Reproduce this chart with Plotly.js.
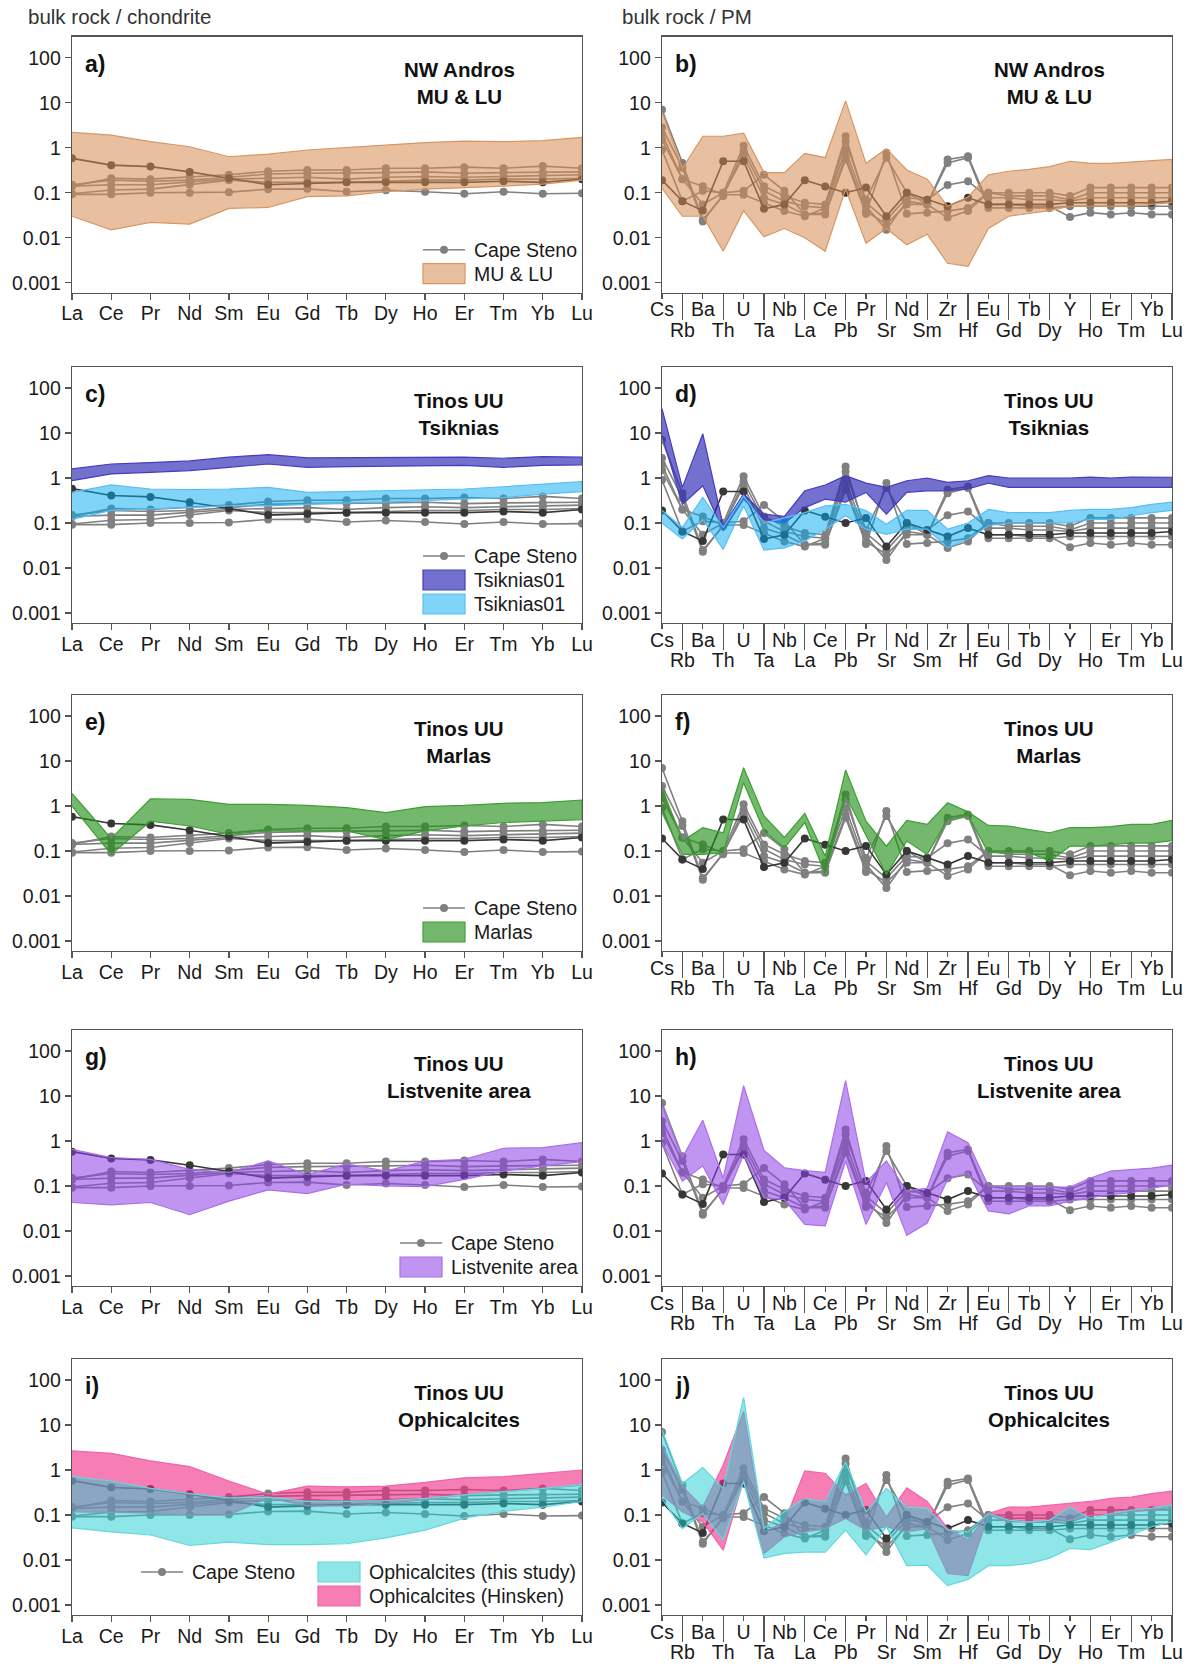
<!DOCTYPE html>
<html><head><meta charset="utf-8">
<script src="https://cdn.plot.ly/plotly-3.0.1.min.js"></script>
<style>html,body{margin:0;padding:0;background:#fff}</style>
</head><body><div id="chart" style="width:1191px;height:1665px"></div>
<script>
// ---------- categories ----------
const REE = ['La','Ce','Pr','Nd','Sm','Eu','Gd','Tb','Dy','Ho','Er','Tm','Yb','Lu'];
const PM  = ['Cs','Rb','Ba','Th','U','Ta','Nb','La','Ce','Pb','Pr','Sr','Nd','Sm','Zr','Hf','Eu','Gd','Tb','Dy','Y','Ho','Er','Tm','Yb','Lu'];
const yTickVals = [100,10,1,0.1,0.01,0.001];
const yTickText = ['100','10','1','0.1','0.01','0.001'];

// ---------- Cape Steno samples (chondrite normalised) ----------
const capeREE_1 = [0.14,0.21,0.20,0.22,0.25,0.30,0.32,0.32,0.35,0.35,0.37,0.35,0.39,0.35];
const capeREE_2 = [0.15,0.19,0.18,0.19,0.22,0.26,0.27,0.27,0.28,0.29,0.27,0.28,0.28,0.29];
const capeREE_3 = [0.14,0.15,0.15,0.17,0.20,0.21,0.22,0.20,0.22,0.23,0.22,0.23,0.24,0.25];
const capeREE_4 = [0.095,0.115,0.12,0.15,0.19,0.17,0.17,0.17,0.18,0.19,0.19,0.20,0.20,0.21];
const capeREE_5 = [0.092,0.092,0.10,0.10,0.103,0.12,0.122,0.105,0.114,0.105,0.095,0.105,0.095,0.097];
const capeREE_dark = [0.58,0.41,0.38,0.29,0.21,0.15,0.16,0.17,0.17,0.17,0.17,0.18,0.17,0.20];

// ---------- Cape Steno samples (PM normalised) ----------
const capePM_1 = [7,0.46,0.025,0.085,0.84,0.11,0.065,0.05,0.046,0.9,0.05,0.015,0.065,0.055,0.55,0.65,0.055,0.055,0.05,0.05,0.029,0.036,0.033,0.036,0.033,0.033];
const capePM_2 = [2.8,0.36,0.023,0.09,0.65,0.077,0.055,0.033,0.036,0.65,0.039,0.02,0.055,0.055,0.46,0.6,0.046,0.046,0.046,0.046,0.05,0.05,0.05,0.05,0.05,0.05];
const capePM_3 = [2,0.2,0.055,0.1,1.1,0.14,0.085,0.06,0.055,1.8,0.06,0.025,0.077,0.07,0.148,0.18,0.077,0.077,0.07,0.07,0.065,0.077,0.077,0.077,0.077,0.077];
const capePM_4 = [0.9,0.065,0.11,0.1,0.11,0.25,0.11,0.033,0.033,0.55,0.034,0.77,0.034,0.036,0.039,0.046,0.1,0.1,0.1,0.1,0.085,0.13,0.13,0.13,0.13,0.13];
const capePM_5 = [1.5,0.2,0.14,0.09,0.09,0.06,0.039,0.03,0.046,1.4,0.07,0.6,0.1,0.055,0.028,0.039,0.1,0.085,0.085,0.085,0.07,0.1,0.1,0.1,0.1,0.1];
const capePM_dark = [0.19,0.065,0.04,0.5,0.5,0.044,0.055,0.19,0.138,0.1,0.13,0.03,0.1,0.07,0.05,0.077,0.055,0.055,0.055,0.055,0.06,0.06,0.06,0.06,0.06,0.065];

// ---------- comparison fields: upper / lower envelopes ----------
const muluREE_up = [2.2,1.9,1.36,1.05,0.63,0.72,0.89,1.0,1.15,1.3,1.4,1.36,1.43,1.7];
const muluREE_lo = [0.03,0.015,0.022,0.02,0.045,0.047,0.082,0.085,0.105,0.12,0.13,0.14,0.155,0.19];
const muluPM_up = [6.3,0.35,1.8,1.8,2.1,0.28,0.28,0.75,0.6,11,0.45,0.95,0.32,0.2,0.05,0.08,0.25,0.3,0.33,0.38,0.5,0.45,0.45,0.48,0.52,0.55];
const muluPM_lo = [0.125,0.03,0.03,0.005,0.04,0.0105,0.016,0.01,0.005,0.12,0.0075,0.016,0.007,0.012,0.0027,0.0023,0.016,0.03,0.035,0.04,0.05,0.05,0.05,0.05,0.055,0.06];

const tsikA_REE_up = [1.59,2.05,2.2,2.4,2.9,3.3,2.8,2.8,2.8,2.85,2.9,2.75,3.0,2.9];
const tsikA_REE_lo = [0.87,1.23,1.34,1.46,1.73,2.05,1.73,1.8,1.8,1.88,1.9,1.73,1.9,1.95];
const tsikB_REE_up = [0.48,0.70,0.57,0.55,0.57,0.62,0.48,0.5,0.52,0.54,0.57,0.64,0.73,0.83];
const tsikB_REE_lo = [0.12,0.19,0.2,0.22,0.24,0.24,0.26,0.28,0.29,0.31,0.34,0.37,0.44,0.5];
const tsikA_PM_up = [35,0.62,9.6,0.087,0.44,0.157,0.14,0.52,0.70,1.13,0.77,0.62,0.87,1.0,0.8,0.87,1.13,1.0,1.0,1.0,1.0,1.05,1.0,1.05,1.05,1.04];
const tsikA_PM_lo = [8.8,0.26,0.67,0.067,0.34,0.12,0.1,0.22,0.34,0.29,0.48,0.157,0.48,0.52,0.52,0.57,0.77,0.62,0.62,0.62,0.62,0.62,0.62,0.62,0.62,0.62];
const tsikB_PM_up = [0.19,0.08,0.37,0.08,0.40,0.1,0.13,0.17,0.24,0.26,0.19,0.094,0.19,0.19,0.073,0.1,0.2,0.17,0.17,0.17,0.19,0.2,0.2,0.22,0.26,0.29];
const tsikB_PM_lo = [0.1,0.044,0.12,0.026,0.24,0.025,0.028,0.04,0.073,0.145,0.073,0.056,0.073,0.073,0.028,0.044,0.087,0.1,0.1,0.1,0.1,0.12,0.12,0.145,0.17,0.19];

const marlasREE_up = [1.9,0.19,1.45,1.4,1.09,1.09,1.03,0.92,0.71,0.97,1.03,1.15,1.19,1.36];
const marlasREE_lo = [1.0,0.084,0.46,0.36,0.235,0.28,0.28,0.28,0.18,0.28,0.36,0.43,0.46,0.5];
const marlasPM_up = [2.55,0.167,0.33,0.255,7.1,0.6,0.2,0.69,0.077,6.3,0.46,0.128,0.48,0.39,1.19,0.74,0.37,0.36,0.3,0.255,0.33,0.33,0.35,0.39,0.39,0.48];
const marlasPM_lo = [0.71,0.084,0.084,0.092,3.3,0.28,0.118,0.43,0.03,1.67,0.215,0.03,0.167,0.084,0.5,0.62,0.092,0.092,0.092,0.06,0.128,0.128,0.14,0.15,0.15,0.17];

const listvREE_up = [0.65,0.43,0.39,0.235,0.2,0.36,0.18,0.31,0.215,0.36,0.39,0.69,0.71,0.92];
const listvREE_lo = [0.043,0.038,0.043,0.023,0.046,0.082,0.068,0.11,0.1,0.097,0.14,0.215,0.28,0.35];
const listvPM_up = [6,0.43,2.9,0.15,17,0.62,0.255,0.22,0.2,22,0.12,0.36,0.077,0.09,1.6,0.92,0.1,0.095,0.1,0.095,0.095,0.15,0.215,0.23,0.25,0.29];
const listvPM_lo = [0.92,0.128,0.28,0.039,0.5,0.055,0.05,0.014,0.013,0.36,0.014,0.12,0.008,0.015,0.14,0.2,0.028,0.024,0.036,0.036,0.046,0.055,0.065,0.07,0.09,0.105];

const ophiThisREE_up = [0.71,0.57,0.39,0.3,0.24,0.25,0.2,0.2,0.21,0.235,0.28,0.33,0.39,0.48];
const ophiThisREE_lo = [0.052,0.042,0.036,0.021,0.025,0.022,0.022,0.023,0.031,0.046,0.085,0.12,0.15,0.2];
const ophiHinsREE_up = [2.65,2.35,1.6,1.19,0.57,0.29,0.44,0.42,0.44,0.53,0.67,0.71,0.84,1.0];
const ophiHinsREE_lo = [0.118,0.115,0.11,0.1,0.1,0.24,0.16,0.16,0.18,0.22,0.28,0.32,0.39,0.46];
const ophiThisPM_up = [7.8,0.5,1.13,0.39,41,0.05,0.12,0.23,0.2,1.5,0.118,0.39,0.15,0.14,0.046,0.042,0.108,0.077,0.07,0.077,0.15,0.084,0.108,0.128,0.14,0.166];
const ophiThisPM_lo = [0.23,0.05,0.108,0.028,0.55,0.011,0.014,0.015,0.015,0.046,0.013,0.055,0.0075,0.0077,0.0027,0.0037,0.0075,0.0075,0.0084,0.011,0.018,0.017,0.025,0.036,0.055,0.07];
const ophiHinsPM_up = [3.6,0.43,0.15,1.29,20,0.042,0.07,0.95,0.84,0.28,0.5,0.09,0.4,0.2,0.05,0.028,0.108,0.15,0.15,0.166,0.18,0.2,0.235,0.25,0.3,0.34];
const ophiHinsPM_lo = [0.28,0.118,0.07,0.0165,0.6,0.014,0.033,0.042,0.05,0.084,0.046,0.055,0.042,0.05,0.005,0.0045,0.1,0.07,0.07,0.07,0.077,0.1,0.1,0.118,0.128,0.15];

// ---------- styles ----------
const ST = {
  mulu:  {fill:'rgba(214,140,80,0.55)', edge:'rgb(215,150,100)'},
  tsikA: {fill:'rgba(40,35,180,0.65)', edge:'rgb(70,60,190)'},
  tsikB: {fill:'rgba(0,170,240,0.5)', edge:'rgb(90,190,245)'},
  marl:  {fill:'rgba(30,140,20,0.62)', edge:'rgb(60,160,50)'},
  listv: {fill:'rgba(140,60,230,0.55)', edge:'rgb(170,110,235)'},
  hins:  {fill:'rgba(240,40,130,0.6)', edge:'rgb(240,100,170)'},
  ophi:  {fill:'rgba(30,205,210,0.5)', edge:'rgb(100,215,220)'}
};

const panels = [
  {letter:'a)', title:'NW Andros<br>MU & LU', cats:REE, capes:[capeREE_1,capeREE_2,capeREE_3,capeREE_4,capeREE_5], dark:capeREE_dark,
   bands:[Object.assign({name:'MU & LU', up:muluREE_up, lo:muluREE_lo}, ST.mulu)]},
  {letter:'b)', title:'NW Andros<br>MU & LU', cats:PM, capes:[capePM_1,capePM_2,capePM_3,capePM_4,capePM_5], dark:capePM_dark,
   bands:[Object.assign({name:'MU & LU', up:muluPM_up, lo:muluPM_lo}, ST.mulu)]},
  {letter:'c)', title:'Tinos UU<br>Tsiknias', cats:REE, capes:[capeREE_1,capeREE_2,capeREE_3,capeREE_4,capeREE_5], dark:capeREE_dark,
   bands:[Object.assign({name:'Tsiknias01', up:tsikA_REE_up, lo:tsikA_REE_lo}, ST.tsikA),
          Object.assign({name:'Tsiknias01', up:tsikB_REE_up, lo:tsikB_REE_lo}, ST.tsikB)]},
  {letter:'d)', title:'Tinos UU<br>Tsiknias', cats:PM, capes:[capePM_1,capePM_2,capePM_3,capePM_4,capePM_5], dark:capePM_dark,
   bands:[Object.assign({name:'Tsiknias01', up:tsikA_PM_up, lo:tsikA_PM_lo}, ST.tsikA),
          Object.assign({name:'Tsiknias01', up:tsikB_PM_up, lo:tsikB_PM_lo}, ST.tsikB)]},
  {letter:'e)', title:'Tinos UU<br>Marlas', cats:REE, capes:[capeREE_1,capeREE_2,capeREE_3,capeREE_4,capeREE_5], dark:capeREE_dark,
   bands:[Object.assign({name:'Marlas', up:marlasREE_up, lo:marlasREE_lo}, ST.marl)]},
  {letter:'f)', title:'Tinos UU<br>Marlas', cats:PM, capes:[capePM_1,capePM_2,capePM_3,capePM_4,capePM_5], dark:capePM_dark,
   bands:[Object.assign({name:'Marlas', up:marlasPM_up, lo:marlasPM_lo}, ST.marl)]},
  {letter:'g)', title:'Tinos UU<br>Listvenite area', cats:REE, capes:[capeREE_1,capeREE_2,capeREE_3,capeREE_4,capeREE_5], dark:capeREE_dark,
   bands:[Object.assign({name:'Listvenite area', up:listvREE_up, lo:listvREE_lo}, ST.listv)]},
  {letter:'h)', title:'Tinos UU<br>Listvenite area', cats:PM, capes:[capePM_1,capePM_2,capePM_3,capePM_4,capePM_5], dark:capePM_dark,
   bands:[Object.assign({name:'Listvenite area', up:listvPM_up, lo:listvPM_lo}, ST.listv)]},
  {letter:'i)', title:'Tinos UU<br>Ophicalcites', cats:REE, capes:[capeREE_1,capeREE_2,capeREE_3,capeREE_4,capeREE_5], dark:capeREE_dark,
   bands:[Object.assign({name:'Ophicalcites (Hinsken)', up:ophiHinsREE_up, lo:ophiHinsREE_lo}, ST.hins),
          Object.assign({name:'Ophicalcites (this study)', up:ophiThisREE_up, lo:ophiThisREE_lo}, ST.ophi)]},
  {letter:'j)', title:'Tinos UU<br>Ophicalcites', cats:PM, capes:[capePM_1,capePM_2,capePM_3,capePM_4,capePM_5], dark:capePM_dark,
   bands:[Object.assign({name:'Ophicalcites (Hinsken)', up:ophiHinsPM_up, lo:ophiHinsPM_lo}, ST.hins),
          Object.assign({name:'Ophicalcites (this study)', up:ophiThisPM_up, lo:ophiThisPM_lo}, ST.ophi)]}
];

// legend contents of the left-hand panels (rows top->bottom)
const legends = [
  {x:423, rows:[{cape:true,name:'Cape Steno'},{st:ST.mulu,name:'MU & LU'}]},
  {x:423, rows:[{cape:true,name:'Cape Steno'},{st:ST.tsikA,name:'Tsiknias01'},{st:ST.tsikB,name:'Tsiknias01'}]},
  {x:423, rows:[{cape:true,name:'Cape Steno'},{st:ST.marl,name:'Marlas'}]},
  {x:400, rows:[{cape:true,name:'Cape Steno'},{st:ST.listv,name:'Listvenite area'}]},
  {x:318, rows:[{st:ST.ophi,name:'Ophicalcites (this study)'},{st:ST.hins,name:'Ophicalcites (Hinsken)'}],
   extra:{x:141, cape:true, name:'Cape Steno'}}
];

// ---------- layout geometry (px in 1191 x 1665) ----------
const W = 1191, H = 1665;
const colX = [[72,582],[662,1172]];
const rowTop = [36.7,367,695,1030,1359];
const plotH = 256;
const yRange = [-3.222, 2.467];
const FONT = 'Liberation Sans, Arial, sans-serif';
const AX = '#555';
const GREY = 'rgb(128,128,128)', DARK = 'rgb(55,55,55)';

const traces = [];
const layout = {
  width:W, height:H, margin:{l:0,r:0,t:0,b:0}, paper_bgcolor:'#fff', plot_bgcolor:'#fff',
  font:{family:FONT, size:19, color:'#1a1a1a'}, showlegend:false, annotations:[], shapes:[]
};
const px = v => v/W, py = v => 1 - v/H;

panels.forEach((p, k) => {
  const n = k+1, row = Math.floor(k/2), col = k%2;
  const xa = n===1 ? 'x' : 'x'+n, ya = n===1 ? 'y' : 'y'+n;
  const xKey = n===1 ? 'xaxis' : 'xaxis'+n, yKey = n===1 ? 'yaxis' : 'yaxis'+n;
  const idx = p.cats.map((c,i)=>i);
  const top = rowTop[row], bot = top + plotH;
  const dom = [px(colX[col][0]), px(colX[col][1])];
  const ydom = [py(bot), py(top)];
  const isPM = col===1;

  p.capes.forEach(v => {
    traces.push({type:'scatter', mode:'lines+markers', x:idx, y:v, xaxis:xa, yaxis:ya, name:'Cape Steno',
      line:{color:GREY, width:1.6}, marker:{color:GREY, size:8}, hoverinfo:'skip'});
  });
  traces.push({type:'scatter', mode:'lines+markers', x:idx, y:p.dark, xaxis:xa, yaxis:ya, name:'Cape Steno',
    line:{color:DARK, width:1.6}, marker:{color:DARK, size:8}, hoverinfo:'skip'});

  p.bands.forEach(b => {
    traces.push({type:'scatter', mode:'lines', x:idx.concat(idx.slice().reverse()),
      y:b.up.concat(b.lo.slice().reverse()), xaxis:xa, yaxis:ya, fill:'toself',
      fillcolor:b.fill, line:{color:b.edge, width:1.2}, name:b.name, hoverinfo:'skip'});
  });

  const lastIdx = p.cats.length-1;
  const xBase = {domain:dom, anchor:ya, range:[0,lastIdx], showgrid:false, zeroline:false,
    showline:true, mirror:true, linecolor:AX, linewidth:1.3, ticks:'outside', ticklen:6, tickwidth:1.2,
    tickcolor:AX, tickfont:{size:19.5, color:'#1a1a1a'}, fixedrange:true};
  if (!isPM) {
    layout[xKey] = Object.assign({}, xBase, {tickmode:'array', tickvals:idx, ticktext:p.cats, ticklabelstandoff:-3});
  } else {
    const ev = idx.filter(i=>i%2===0), od = idx.filter(i=>i%2===1);
    layout[xKey] = Object.assign({}, xBase, {tickmode:'array', tickvals:ev, ticktext:ev.map(i=>p.cats[i]),
      ticklen:5, ticklabelstandoff:-6});
    const oId = 'x'+(10+row+1), oKey = 'xaxis'+(10+row+1);
    layout[oKey] = {overlaying:xa, anchor:ya, side:'bottom', range:[0,lastIdx], showgrid:false, zeroline:false,
      showline:false, ticks:'outside', ticklen:26, tickwidth:1.2, tickcolor:AX, ticklabelstandoff:-6,
      tickmode:'array', tickvals:od, ticktext:od.map(i=>p.cats[i]), tickfont:{size:19.5, color:'#1a1a1a'}, fixedrange:true};
    // invisible copy of a sample so the overlay axis (odd labels) is drawn
    traces.push({type:'scatter', mode:'lines', x:idx, y:p.dark, xaxis:oId, yaxis:ya, opacity:0,
      line:{width:0}, hoverinfo:'skip', name:'Cape Steno'});
  }
  layout[yKey] = {domain:ydom, anchor:xa, type:'log', range:yRange, showgrid:false, zeroline:false,
    showline:true, mirror:true, linecolor:AX, linewidth:1.3, ticks:'outside', ticklen:6, tickwidth:1.2,
    tickcolor:AX, tickmode:'array', tickvals:yTickVals, ticktext:yTickText,
    tickfont:{size:19.5, color:'#1a1a1a'}, fixedrange:true};

  layout.annotations.push({xref:xa+' domain', yref:ya+' domain', x:0.022, y:1-27/plotH, xanchor:'left', yanchor:'middle',
    text:'<b>'+p.letter+'</b>', showarrow:false, font:{size:23, color:'#111'}});
  layout.annotations.push({xref:xa+' domain', yref:ya+' domain', x:0.759, y:1-46.6/plotH, xanchor:'center', yanchor:'middle',
    text:'<b>'+p.title.replace('<br>','</b><br><b>')+'</b>', showarrow:false, font:{size:20.5, color:'#111'}});

  // legend (left panels)
  if (!isPM) {
    const L = legends[row];
    const rows = L.rows;
    const lastC = bot - 19;
    const drawItem = (xl, yc, item) => {
      if (item.cape) {
        layout.shapes.push({type:'line', xref:'paper', yref:'paper', x0:px(xl), x1:px(xl+42), y0:py(yc), y1:py(yc),
          line:{color:GREY, width:1.6}});
        layout.shapes.push({type:'circle', xref:'paper', yref:'paper', x0:px(xl+21-4), x1:px(xl+21+4), y0:py(yc+4), y1:py(yc-4),
          fillcolor:GREY, line:{color:GREY, width:0}});
      } else {
        layout.shapes.push({type:'rect', xref:'paper', yref:'paper', x0:px(xl), x1:px(xl+42), y0:py(yc+10), y1:py(yc-10),
          fillcolor:item.st.fill, line:{color:item.st.edge, width:1.2}});
      }
      layout.annotations.push({xref:'paper', yref:'paper', x:px(xl+48.5), y:py(yc), xanchor:'left', yanchor:'middle',
        text:item.name, showarrow:false, font:{size:19.5, color:'#1a1a1a'}});
    };
    rows.forEach((item, i) => drawItem(L.x, lastC - (rows.length-1-i)*24, item));
    if (L.extra) drawItem(L.extra.x, lastC - 24, L.extra);
  }
});

layout.annotations.push({xref:'paper', yref:'paper', x:px(26), y:py(17), xanchor:'left', yanchor:'middle',
  text:'bulk rock / chondrite', showarrow:false, font:{size:20.5, color:'#333'}});
layout.annotations.push({xref:'paper', yref:'paper', x:px(620), y:py(17), xanchor:'left', yanchor:'middle',
  text:'bulk rock / PM', showarrow:false, font:{size:20.5, color:'#333'}});

Plotly.newPlot('chart', traces, layout, {staticPlot:true, displayModeBar:false});
</script>
</body></html>
